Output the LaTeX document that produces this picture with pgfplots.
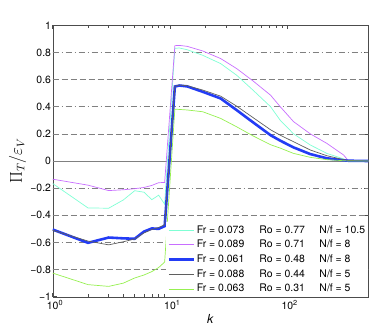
\documentclass[border=0pt]{standalone}
\usepackage{fontspec}
\setmainfont{TeX Gyre Heros}
\usepackage{pgfplots}
\usepackage{pgfplotstable}
\pgfplotsset{compat=1.18}
\definecolor{ccyan}{RGB}{127,255,212}
\definecolor{cmag}{RGB}{200,110,255}
\definecolor{cblue}{RGB}{35,60,245}
\definecolor{cgray}{RGB}{95,95,95}
\definecolor{cgreen}{RGB}{150,240,80}
\definecolor{gridc}{RGB}{128,128,128}

% k, then Pi_T/eps_V for the five runs
\pgfplotstableread{
k     cy      mg      bl      gr      gn
1   -0.166  -0.134  -0.505  -0.510  -0.826
2   -0.346  -0.178  -0.603  -0.590  -0.911
3   -0.348  -0.218  -0.564  -0.618  -0.924
4   -0.287  -0.212  -0.570  -0.595  -0.900
5   -0.219  -0.204  -0.573  -0.575  -0.862
6   -0.230  -0.195  -0.520  -0.530  -0.840
7   -0.285  -0.180  -0.497  -0.505  -0.815
8   -0.252  -0.160  -0.500  -0.490  -0.785
9   -0.318  -0.158  -0.480  -0.470  -0.745
11   0.830   0.850   0.549   0.550   0.382
12   0.833   0.852   0.556   0.560   0.380
14   0.820   0.845   0.550   0.555   0.376
19   0.779   0.811   0.510   0.523   0.363
27   0.718   0.755   0.461   0.478   0.314
37   0.632   0.681   0.375   0.404   0.252
51   0.522   0.590   0.285   0.320   0.185
72   0.400   0.485   0.190   0.230   0.120
87   0.300   0.400   0.150   0.190   0.095
113  0.200   0.290   0.100   0.142   0.056
157  0.118   0.200   0.051   0.081   0.027
217  0.056   0.130   0.020   0.039   0.010
302  0.015   0.044   0.005   0.010   0.002
333  0.003   0.000   0.002   0.004   0.000
490  0.000   0.000   0.000   0.000   0.000
}\spectra

\newcommand{\entry}[3]{\makebox[62.7bp][l]{Fr = #1}\makebox[60bp][l]{Ro = #2}N/f = #3}

\begin{document}
\fontsize{10.5}{12}\selectfont
\begin{tikzpicture}
\begin{axis}[
  at={(0,0)}, anchor=south west,
  width=315.6bp, height=271.4bp, scale only axis,
  xmode=log, xmin=1, xmax=490, ymin=-1, ymax=1,
  xtick={1,10,100},
  xticklabels={10\rlap{\textsuperscript{0}},10\rlap{\textsuperscript{1}},10\rlap{\textsuperscript{2}}},
  ytick={-1,-0.8,-0.6,-0.4,-0.2,0,0.2,0.4,0.6,0.8,1},
  yticklabels={−1,−0.8,−0.6,−0.4,−0.2,0,0.2,0.4,0.6,0.8,1},
  tick align=inside, major tick length=4bp, minor tick length=2.5bp,
  axis line style={black!70}, every tick/.style={black!70, line width=0.5bp},
  tick label style={font=\fontsize{10.5}{12}\selectfont},
  yticklabel style={inner sep=1.5bp},
  xticklabel style={inner sep=1.5bp, yshift=-2bp},
  xlabel={\textit{k}}, ylabel={$\Pi_T/\varepsilon_V$},
  xlabel style={font=\fontsize{12.5}{14}\selectfont},
  ylabel style={font=\fontsize{16}{18}\selectfont, yshift=-1bp},
  legend cell align=left,
  legend image code/.code={\draw[#1] (0bp,0bp) -- (25bp,0bp);},
  legend style={at={(1,0)}, anchor=south east, draw=none, fill=white,
    font=\fontsize{10.5}{12}\selectfont, row sep=2.5bp, inner sep=1.5bp,
    nodes={inner sep=1.5bp}},
]
% horizontal reference lines
\addplot[forget plot, gridc, line width=0.6bp, dash pattern=on 6bp off 3bp on 1bp off 3bp] coordinates {(1,0.8) (490,0.8)};
\addplot[forget plot, gridc, line width=0.6bp, dash pattern=on 6bp off 3bp] coordinates {(1,0.6) (490,0.6)};
\addplot[forget plot, gridc, line width=0.6bp, dash pattern=on 6bp off 3bp on 1bp off 3bp] coordinates {(1,0.4) (490,0.4)};
\addplot[forget plot, gridc, line width=0.6bp, dash pattern=on 6bp off 3bp] coordinates {(1,0.2) (490,0.2)};
\addplot[forget plot, gridc, line width=0.6bp] coordinates {(1,0) (490,0)};
\addplot[forget plot, gridc, line width=0.6bp, dash pattern=on 6bp off 3bp on 1bp off 3bp] coordinates {(1,-0.2) (490,-0.2)};
\addplot[forget plot, gridc, line width=0.6bp, dash pattern=on 6bp off 3bp] coordinates {(1,-0.4) (490,-0.4)};
\addplot[forget plot, gridc, line width=0.6bp, dash pattern=on 6bp off 3bp on 1bp off 3bp] coordinates {(1,-0.6) (490,-0.6)};
\addplot[forget plot, gridc, line width=0.6bp, dash pattern=on 6bp off 3bp] coordinates {(1,-0.8) (490,-0.8)};

\addplot[ccyan, line width=0.7bp] table[x=k, y=cy] {\spectra};
\addplot[cmag, line width=0.7bp] table[x=k, y=mg] {\spectra};
\addplot[cblue, line width=2.6bp] table[x=k, y=bl] {\spectra};
\addplot[cgray, line width=0.7bp] table[x=k, y=gr] {\spectra};
\addplot[cgreen, line width=0.7bp] table[x=k, y=gn] {\spectra};
\legend{\entry{0.073}{0.77}{10.5}, \entry{0.089}{0.71}{8}, \entry{0.061}{0.48}{8}, \entry{0.088}{0.44}{5}, \entry{0.063}{0.31}{5}}
\end{axis}
\pgfresetboundingbox
\useasboundingbox (-52.7bp,-35.3bp) rectangle (321.3bp,296.7bp);
\end{tikzpicture}
\end{document}
